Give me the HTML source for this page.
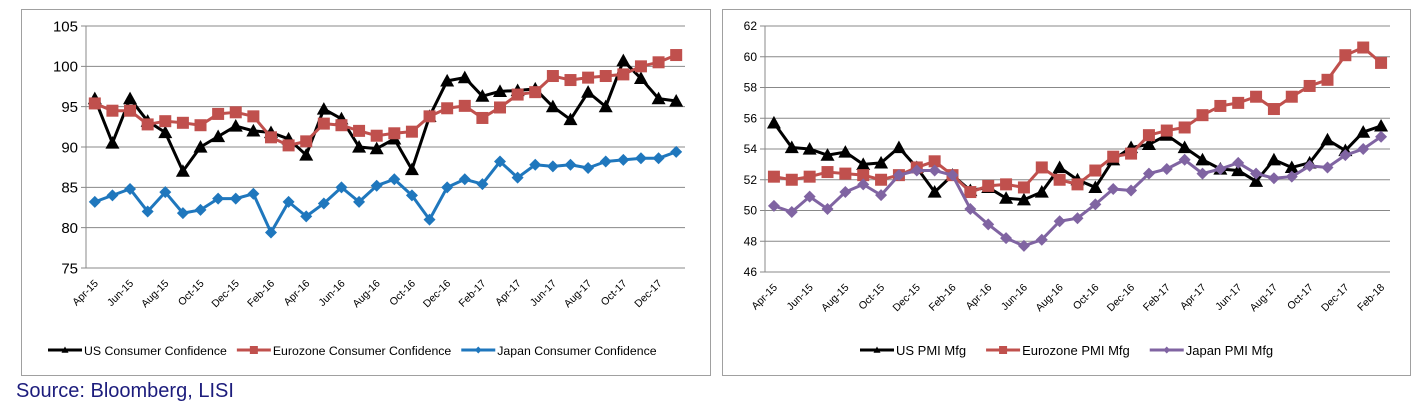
<!DOCTYPE html>
<html><head><meta charset="utf-8"><style>
body{margin:0;background:#fff;width:1425px;height:417px;overflow:hidden;font-family:"Liberation Sans",sans-serif;}
svg{position:absolute;left:0;top:0}
#src{position:absolute;left:16px;top:380px;font-family:"Liberation Sans",sans-serif;font-size:20px;color:#1c1c7c}
</style></head><body>
<svg id="chart" width="1425" height="417"></svg>
<div id="src">Source: Bloomberg, LISI</div>
<script>
const monthsL = ["Apr-15","May-15","Jun-15","Jul-15","Aug-15","Sep-15","Oct-15","Nov-15","Dec-15","Jan-16","Feb-16","Mar-16","Apr-16","May-16","Jun-16","Jul-16","Aug-16","Sep-16","Oct-16","Nov-16","Dec-16","Jan-17","Feb-17","Mar-17","Apr-17","May-17","Jun-17","Jul-17","Aug-17","Sep-17","Oct-17","Nov-17","Dec-17","Jan-18"];
const usConf = [96,90.5,96,93.2,91.8,87,90,91.3,92.6,92,91.8,91,89,94.7,93.5,90,89.8,91,87.2,93.8,98.2,98.6,96.3,96.9,97,97.2,95,93.4,96.8,95,100.7,98.5,96,95.7];
const euConf = [95.4,94.5,94.5,92.8,93.2,93,92.7,94.1,94.3,93.8,91.2,90.2,90.7,92.9,92.7,92,91.4,91.7,91.9,93.8,94.8,95.1,93.6,94.9,96.5,96.8,98.8,98.3,98.6,98.8,99,100,100.5,101.4];
const jpConf = [83.2,84,84.8,82,84.4,81.8,82.2,83.6,83.6,84.2,79.4,83.2,81.4,83,85,83.2,85.2,86,84,81,85,86,85.4,88.2,86.2,87.8,87.6,87.8,87.4,88.2,88.4,88.6,88.6,89.4];
const ticksL = [75,80,85,90,95,100,105];
const monthsR = ["Apr-15","May-15","Jun-15","Jul-15","Aug-15","Sep-15","Oct-15","Nov-15","Dec-15","Jan-16","Feb-16","Mar-16","Apr-16","May-16","Jun-16","Jul-16","Aug-16","Sep-16","Oct-16","Nov-16","Dec-16","Jan-17","Feb-17","Mar-17","Apr-17","May-17","Jun-17","Jul-17","Aug-17","Sep-17","Oct-17","Nov-17","Dec-17","Jan-18","Feb-18"];
const usPmi = [55.7,54.1,54,53.6,53.8,53,53.1,54.1,52.8,51.2,52.3,51.3,51.5,50.8,50.7,51.2,52.8,52,51.5,53.3,54.1,54.3,54.9,54.1,53.3,52.7,52.6,51.9,53.3,52.8,53.1,54.6,53.9,55.1,55.5];
const euPmi = [52.2,52,52.2,52.5,52.4,52.3,52,52.3,52.8,53.2,52.3,51.2,51.6,51.7,51.5,52.8,52,51.7,52.6,53.5,53.7,54.9,55.2,55.4,56.2,56.8,57,57.4,56.6,57.4,58.1,58.5,60.1,60.6,59.6];
const jpPmi = [50.3,49.9,50.9,50.1,51.2,51.7,51,52.3,52.6,52.6,52.3,50.1,49.1,48.2,47.7,48.1,49.3,49.5,50.4,51.4,51.3,52.4,52.7,53.3,52.4,52.7,53.1,52.4,52.1,52.2,52.9,52.8,53.6,54,54.8];
const ticksR = [46,48,50,52,54,56,58,60,62];

const NS="http://www.w3.org/2000/svg";
const svg=document.getElementById('chart');
function mk(tag,attrs,parent){const e=document.createElementNS(NS,tag);for(const k in attrs)e.setAttribute(k,attrs[k]);(parent||svg).appendChild(e);return e;}
function marker(g,shape,x,y,color,s){
  let m;
  if(shape==='tri') m=mk('polygon',{points:`${x},${y-s} ${x-s},${y+s*0.8} ${x+s},${y+s*0.8}`,fill:color},g);
  else if(shape==='sq') m=mk('rect',{x:x-s,y:y-s,width:2*s,height:2*s,fill:color},g);
  else m=mk('polygon',{points:`${x},${y-s} ${x+s},${y} ${x},${y+s} ${x-s},${y}`,fill:color},g);
  return m;
}
function chart(o){
  const g=mk('g',{});
  
  
  const fr=mk('rect',{x:o.box[0]+0.5,y:o.box[1]+0.5,width:o.box[2],height:o.box[3],fill:'#fff',stroke:'#a0a0a0'},g);
  
  
  const [L,T,R,B]=o.plot;const cw=(R-L)/o.nslots;
  const xs=i=>L+cw*(i+0.5);
  const ys=v=>B-(v-o.ticks[0])/(o.ticks[o.ticks.length-1]-o.ticks[0])*(B-T);
  o.ticks.forEach(t=>{
    const ln=mk('line',{x1:L-5,x2:R,y1:ys(t),y2:ys(t),stroke:'#888','stroke-width':1},g);
    
    
    const tx=mk('text',{x:L-8,y:ys(t)+o.yfs*0.35,'text-anchor':'end','font-size':o.yfs,fill:'#000'},g);
    tx.textContent=t;
    
    
  });
  mk('line',{x1:L,x2:L,y1:T,y2:B,stroke:'#888'},g);
  o.cats.forEach((c,i)=>{
    if(i%2) return;
    const x=xs(i),y=B+16;
    const tx=mk('text',{x:x+4,y:y,'text-anchor':'end','font-size':10.5,transform:`rotate(-45 ${x+4} ${y})`},g);
    tx.textContent=c;
    
    
  });
  o.series.forEach(s=>{
    const sg=mk('g',{},g);
    
    
    mk('polyline',{points:s.data.map((v,i)=>xs(i)+','+ys(v)).join(' '),fill:'none',stroke:s.color,'stroke-width':3,'stroke-linejoin':'round'},sg);
    s.data.forEach((v,i)=>{const m=marker(sg,s.shape,xs(i),ys(v),s.color,s.ms);
      
      });
  });
  let lx=o.legX;const ly=o.legY;
  o.series.forEach(s=>{
    const lg=mk('g',{},g);
    
    
    mk('line',{x1:lx,x2:lx+34,y1:ly,y2:ly,stroke:s.color,'stroke-width':3},lg);
    marker(lg,s.shape,lx+17,ly,s.color,s.shape==='sq'?4:3.5);
    const t=mk('text',{x:lx+36,y:ly+5,'font-size':o.lfs},lg);
    t.textContent=s.label;
    lx+=36+t.getComputedTextLength()+o.legGap;
  });
}
chart({name:'consumer-confidence-chart',box:[21,9,689,366],plot:[86,26,685,268],nslots:34,cats:monthsL,ticks:ticksL,yfs:15,legX:48,legY:350,legGap:10,lfs:12.3,
 series:[{name:'us-confidence-line',label:'US Consumer Confidence',data:usConf,color:'#000',shape:'tri',ms:7},
 {name:'eurozone-confidence-line',label:'Eurozone Consumer Confidence',data:euConf,color:'#c0504d',shape:'sq',ms:6},
 {name:'japan-confidence-line',label:'Japan Consumer Confidence',data:jpConf,color:'#1f77bd',shape:'dia',ms:6}]});
chart({name:'pmi-mfg-chart',box:[722,9,688,366],plot:[765,26,1390,272],nslots:35,cats:monthsR,ticks:ticksR,yfs:12,legX:860,legY:350,legGap:20,lfs:13,
 series:[{name:'us-pmi-line',label:'US PMI Mfg',data:usPmi,color:'#000',shape:'tri',ms:7},
 {name:'eurozone-pmi-line',label:'Eurozone PMI Mfg',data:euPmi,color:'#c0504d',shape:'sq',ms:6},
 {name:'japan-pmi-line',label:'Japan PMI Mfg',data:jpPmi,color:'#8064a2',shape:'dia',ms:6}]});
</script>
</body></html>
